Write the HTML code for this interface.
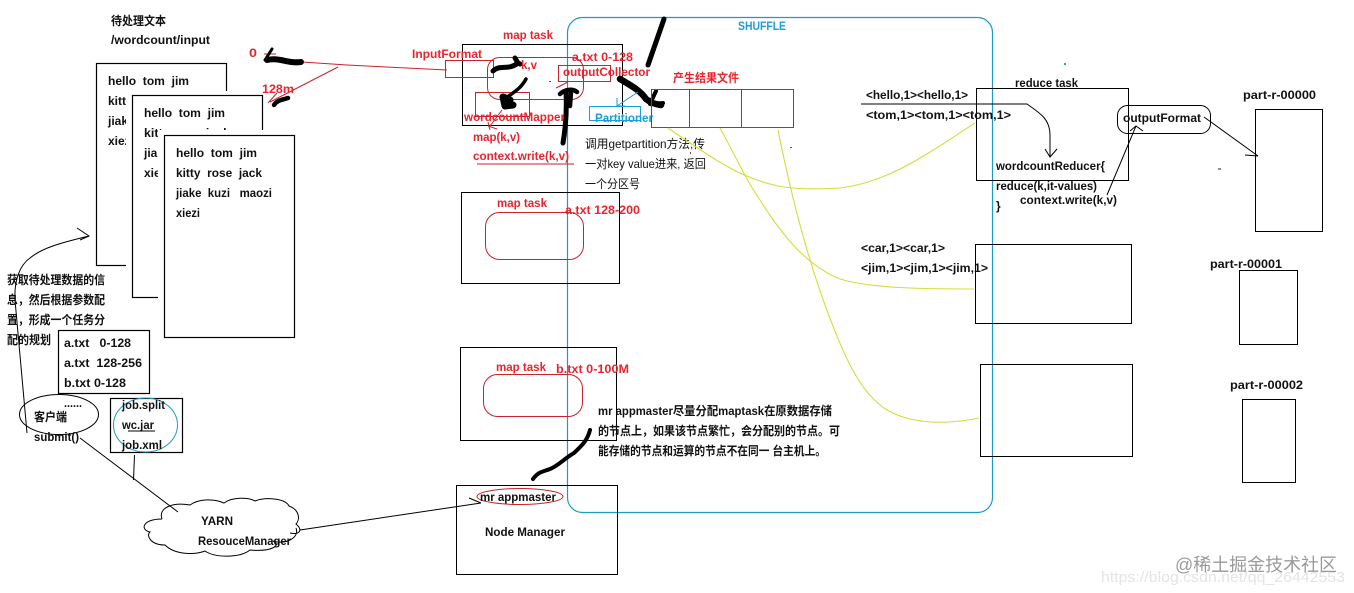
<!DOCTYPE html>
<html><head><meta charset="utf-8">
<style>
html,body{margin:0;padding:0;background:#fff;width:1354px;height:593px;overflow:hidden}
svg{display:block}
text{font-family:"Liberation Sans","Noto Sans CJK SC",sans-serif;font-size:12px;font-weight:bold;fill:#111;white-space:pre}
.r{fill:#e8252d}.b{fill:#1a9fd8}.n{font-weight:normal}
.k{fill:#fff;stroke:#000;stroke-width:1.2}
.kn{fill:none;stroke:#000;stroke-width:1}
.rl{fill:none;stroke:#c8232c;stroke-width:1}
.y{fill:none;stroke:#d4dc3c;stroke-width:1.1}
.br{fill:none;stroke:#000;stroke-linecap:round;stroke-linejoin:round}
</style></head><body>
<svg width="1354" height="593" viewBox="0 0 1354 593" xmlns="http://www.w3.org/2000/svg">
<rect width="1354" height="593" fill="#fff"/>

<!-- documents -->
<text x="111" y="25" textLength="55" lengthAdjust="spacingAndGlyphs">待处理文本</text>
<text x="111" y="44" textLength="99" lengthAdjust="spacingAndGlyphs">/wordcount/input</text>
<rect class="k" x="96.5" y="63.5" width="130" height="202"/>
<text x="108" y="85" textLength="81" lengthAdjust="spacingAndGlyphs">hello  tom  jim</text>
<text x="108" y="105">kitty</text><text x="108" y="125">jiake</text><text x="108" y="145">xiezi</text>
<rect x="126" y="91" width="140" height="210" fill="#fff"/>
<rect class="k" x="132.5" y="95.5" width="130" height="202"/>
<text x="144" y="117" textLength="81" lengthAdjust="spacingAndGlyphs">hello  tom  jim</text>
<text x="144" y="137" textLength="86" lengthAdjust="spacingAndGlyphs">kitty  rose jack</text>
<text x="144" y="157">jiake</text><text x="144" y="177">xiezi</text>
<rect x="158" y="130" width="140" height="210" fill="#fff"/>
<rect class="k" x="164.5" y="135.5" width="130" height="202"/>
<text x="176" y="157" textLength="81" lengthAdjust="spacingAndGlyphs">hello  tom  jim</text>
<text x="176" y="177" textLength="86" lengthAdjust="spacingAndGlyphs">kitty  rose  jack</text>
<text x="176" y="197" textLength="96" lengthAdjust="spacingAndGlyphs">jiake  kuzi   maozi</text>
<text x="176" y="217" textLength="24" lengthAdjust="spacingAndGlyphs">xiezi</text>

<!-- shuffle -->
<rect x="567.5" y="17.5" width="425" height="495" rx="15" fill="none" stroke="#1a9cc4" stroke-width="1.2"/>
<text class="b" x="738" y="30" textLength="48" lengthAdjust="spacingAndGlyphs">SHUFFLE</text>

<!-- client left -->
<text x="7" y="284" textLength="98" lengthAdjust="spacingAndGlyphs">获取待处理数据的信</text>
<text x="7" y="304" textLength="98" lengthAdjust="spacingAndGlyphs">息，然后根据参数配</text>
<text x="7" y="324" textLength="98" lengthAdjust="spacingAndGlyphs">置，形成一个任务分</text>
<text x="7" y="344" textLength="44" lengthAdjust="spacingAndGlyphs">配的规划</text>
<path class="kn" d="M27,433 L15,300 C14,280 20,265 30,258 C42,248 60,243 89,236 M77,228 L89,236 L80,240"/>
<rect class="k" x="58.5" y="330.5" width="91" height="63" style="fill:none"/>
<text x="64" y="347" textLength="67" lengthAdjust="spacingAndGlyphs">a.txt   0-128</text>
<text x="64" y="367" textLength="78" lengthAdjust="spacingAndGlyphs">a.txt  128-256</text>
<text x="64" y="387" textLength="62" lengthAdjust="spacingAndGlyphs">b.txt 0-128</text>
<text x="64" y="407" textLength="18" lengthAdjust="spacingAndGlyphs">......</text>
<ellipse cx="59" cy="414.5" rx="39.5" ry="20" fill="none" stroke="#000"/>
<text x="34" y="421" textLength="33" lengthAdjust="spacingAndGlyphs">客户端</text>
<text x="34" y="441" textLength="45" lengthAdjust="spacingAndGlyphs">submit()</text>
<rect class="k" x="110.5" y="398.5" width="72" height="54" style="fill:none"/>
<ellipse cx="145.5" cy="425" rx="32" ry="27" fill="none" stroke="#1a9cc4"/>
<text x="122" y="409" textLength="43" lengthAdjust="spacingAndGlyphs">job.split</text>
<text x="122" y="429" textLength="32" lengthAdjust="spacingAndGlyphs">wc.jar</text>
<path class="kn" d="M128,431 H155"/>
<text x="122" y="449" textLength="40" lengthAdjust="spacingAndGlyphs">job.xml</text>
<path class="kn" d="M80,438 L178,512 M134.500,455 L133.500,480"/>

<!-- cloud -->
<path class="kn" d="M162,519 C158,508 172,502 190,505 C200,498 215,499 224,503 C232,497 248,497 255,501 C265,497 285,498 289,506 C300,510 300,520 296,524 C303,530 300,535 290,533 M296,528 C300,538 285,545 273,541 C282,545 272,552 250,550 C240,558 215,558 205,551 C195,555 175,555 165,545 C150,545 146,535 150,532 C140,530 142,519 162,519"/>
<text x="201" y="525" textLength="32" lengthAdjust="spacingAndGlyphs">YARN</text>
<text x="198" y="545" textLength="93" lengthAdjust="spacingAndGlyphs">ResouceManager</text>
<path class="kn" d="M300,530 L481,503 M469,498 L481,503"/>

<!-- map task 1 -->
<rect class="kn" x="462.5" y="44.5" width="160" height="81" stroke-width="1.2"/>
<text class="r" x="503" y="39" textLength="50" lengthAdjust="spacingAndGlyphs">map task</text>
<text class="r" x="412" y="58" textLength="70" lengthAdjust="spacingAndGlyphs">InputFormat</text>
<rect class="rl" x="445.500" y="60.500" width="48" height="17"/>
<rect class="rl" x="487.500" y="57.500" width="96" height="42" rx="12"/>
<rect class="rl" x="475.500" y="92.500" width="54" height="24"/>
<rect class="rl" x="558.500" y="65.500" width="52" height="16"/>
<path class="rl" d="M302,62 L347,65 L447,70 M338,67 L270,102 M277,93 L268,103 M264,54 L276,54"/>
<text class="r" x="249" y="57" textLength="8" lengthAdjust="spacingAndGlyphs">0</text>
<text class="r" x="262" y="93" textLength="32" lengthAdjust="spacingAndGlyphs">128m</text>
<path class="br" stroke-width="6" d="M267,60 C280,57 288,64 301,62"/>
<path class="br" stroke-width="3" d="M265,60 L272,49"/>
<path class="br" stroke-width="4.500" d="M274,105 C277,100 282,100 288,98"/>
<path class="br" stroke-width="5" d="M493,71 C500,64 508,71 518,63 L515,58 M518,63 L520,64"/>
<path class="br" stroke-width="3.500" d="M526,79 C520,90 512,93 506,98"/>
<path class="br" stroke-width="7" d="M503,97 L505,106 L513,105 M503,97 L510,100"/>
<text class="r" x="521" y="69" textLength="16" lengthAdjust="spacingAndGlyphs">k,v</text>
<text class="r" x="572" y="61" textLength="61" lengthAdjust="spacingAndGlyphs">a.txt 0-128</text>
<text class="r" x="563" y="76" textLength="87" lengthAdjust="spacingAndGlyphs">outputCollector</text>
<text class="r" x="464" y="121" textLength="101" lengthAdjust="spacingAndGlyphs">wordcountMapper</text>
<text class="r" x="473" y="141" textLength="47" lengthAdjust="spacingAndGlyphs">map(k,v)</text>
<text class="r" x="473" y="160" textLength="96" lengthAdjust="spacingAndGlyphs">context.write(k,v)</text>
<path class="rl" d="M477,164 H574 M502,110 L490,126 M488,126 L497,129 M488,122 L490,130"/>
<path class="br" stroke-width="5" d="M563,143 C566,125 567,110 566,92"/>
<path class="br" stroke-width="4.500" d="M560,94 C564,90 572,88 577,92 M571,92 L570,106"/>
<path class="rl" d="M556,88 L568,82"/>
<path class="br" stroke-width="5" d="M648,65 L664,19"/>
<path class="br" stroke-width="6.500" d="M620,79 C630,85 640,90 646,99 C651,103 655,104 661,105"/>
<path class="br" stroke-width="4" d="M650,104 L656,91 M650,104 L663,103"/>

<!-- partitioner -->
<rect x="589.500" y="106.500" width="51" height="14" fill="none" stroke="#1a9fd8"/>
<path d="M638,92 L617,106 M617,98 V106 H625" fill="none" stroke="#1a9fd8"/>
<text class="b" x="595" y="122" textLength="58" lengthAdjust="spacingAndGlyphs">Partitioner</text>

<!-- result file -->
<text class="r" x="673" y="82" textLength="66" lengthAdjust="spacingAndGlyphs">产生结果文件</text>
<rect class="rl" x="651.500" y="89.500" width="142" height="38"/>
<path class="rl" d="M689.500,89.500 V127.500 M741.500,89.500 V127.500"/>

<text class="n" x="585" y="148" textLength="120" lengthAdjust="spacingAndGlyphs">调用getpartition方法,传</text>
<text class="n" x="585" y="168" textLength="121" lengthAdjust="spacingAndGlyphs">一对key value进来, 返回</text>
<text class="n" x="585" y="188" textLength="55" lengthAdjust="spacingAndGlyphs">一个分区号</text>

<!-- yellow -->
<path class="y" d="M668,128 C700,150 730,170 747,176 C770,186 790,191 840,188 C890,182 930,152 975,123"/>
<path class="y" d="M720,128 C735,155 745,178 760,200 C780,232 805,265 840,279 C870,288 920,289 974,289"/>
<path class="y" d="M778,130 C790,190 805,250 825,305 C840,345 855,385 880,405 C905,425 945,425 979,418"/>

<!-- map task 2 -->
<rect class="kn" x="461.500" y="192.500" width="158" height="91" stroke-width="1.200"/>
<text class="r" x="497" y="207" textLength="50" lengthAdjust="spacingAndGlyphs">map task</text>
<text class="r" x="565" y="214" textLength="75" lengthAdjust="spacingAndGlyphs">a.txt 128-200</text>
<rect class="rl" x="485.500" y="212.500" width="98" height="47" rx="14"/>

<!-- map task 3 -->
<rect class="kn" x="460.500" y="347.500" width="156" height="93" stroke-width="1.200"/>
<text class="r" x="496" y="371" textLength="50" lengthAdjust="spacingAndGlyphs">map task</text>
<text class="r" x="556" y="373" textLength="73" lengthAdjust="spacingAndGlyphs">b.txt 0-100M</text>
<rect class="rl" x="483.500" y="374.500" width="99" height="42" rx="14"/>

<text x="598" y="415" textLength="234" lengthAdjust="spacingAndGlyphs">mr appmaster尽量分配maptask在原数据存储</text>
<text x="598" y="435" textLength="242" lengthAdjust="spacingAndGlyphs">的节点上，如果该节点繁忙，会分配别的节点。可</text>
<text x="598" y="455" textLength="228" lengthAdjust="spacingAndGlyphs">能存储的节点和运算的节点不在同一 台主机上。</text>
<path class="br" stroke-width="4" d="M590,430 C587,442 580,447 574,453 C565,458 558,466 550,469 C542,472 538,472 533,479"/>

<!-- node manager -->
<rect class="kn" x="456.500" y="485.500" width="161" height="89" stroke-width="1.200"/>
<ellipse cx="520" cy="496.500" rx="43" ry="8" fill="none" stroke="#c8232c"/>
<text x="480" y="501" textLength="76" lengthAdjust="spacingAndGlyphs">mr appmaster</text>
<text x="485" y="536" textLength="80" lengthAdjust="spacingAndGlyphs">Node Manager</text>

<!-- reducers -->
<text x="1015" y="87" textLength="63" lengthAdjust="spacingAndGlyphs">reduce task</text>
<rect class="kn" x="976.500" y="88.500" width="152" height="92" stroke-width="1.200"/>
<text x="866" y="99" textLength="102" lengthAdjust="spacingAndGlyphs">&lt;hello,1&gt;&lt;hello,1&gt;</text>
<text x="866" y="119" textLength="145" lengthAdjust="spacingAndGlyphs">&lt;tom,1&gt;&lt;tom,1&gt;&lt;tom,1&gt;</text>
<path class="kn" d="M861,104 H1027 C1038,112 1050,118 1050,135 V157 M1045,149 L1050,157 L1057,149"/>
<text x="996" y="170" textLength="109" lengthAdjust="spacingAndGlyphs">wordcountReducer{</text>
<text x="996" y="190" textLength="101" lengthAdjust="spacingAndGlyphs">reduce(k,it-values)</text>
<text x="1020" y="204" textLength="97" lengthAdjust="spacingAndGlyphs">context.write(k,v)</text>
<text x="996" y="210">}</text>
<rect x="1117.500" y="105.500" width="93" height="28" rx="10" fill="none" stroke="#000"/>
<text x="1123" y="122" textLength="78" lengthAdjust="spacingAndGlyphs">outputFormat</text>
<path class="kn" d="M1107,195 L1136,126 M1130,131 L1136,126 L1143,131"/>
<path class="kn" d="M1204,117 L1258,156 M1245,155 L1258,156"/>

<text x="861" y="252" textLength="84" lengthAdjust="spacingAndGlyphs">&lt;car,1&gt;&lt;car,1&gt;</text>
<text x="861" y="272" textLength="127" lengthAdjust="spacingAndGlyphs">&lt;jim,1&gt;&lt;jim,1&gt;&lt;jim,1&gt;</text>
<rect class="kn" x="975.500" y="244.500" width="156" height="79" stroke-width="1.200"/>
<rect class="kn" x="980.500" y="364.500" width="152" height="92" stroke-width="1.200"/>

<!-- parts -->
<text x="1243" y="99" textLength="73" lengthAdjust="spacingAndGlyphs">part-r-00000</text>
<rect class="kn" x="1255.500" y="109.500" width="67" height="122" stroke-width="1.200"/>
<text x="1210" y="268" textLength="72" lengthAdjust="spacingAndGlyphs">part-r-00001</text>
<rect class="kn" x="1239.500" y="270.500" width="58" height="74" stroke-width="1.200"/>
<text x="1230" y="389" textLength="73" lengthAdjust="spacingAndGlyphs">part-r-00002</text>
<rect class="kn" x="1242.500" y="399.500" width="53" height="83" stroke-width="1.200"/>

<!-- specks -->
<rect x="1064" y="63" width="2" height="2" fill="#1a9fd8"/>
<rect x="1218" y="168.500" width="3" height="1" fill="#222"/>
<rect x="790" y="147" width="2" height="1" fill="#c8232c"/>
<rect x="690" y="152" width="1" height="2" fill="#c8232c"/>
<rect x="549" y="81" width="2" height="1" fill="#c8232c"/>

<!-- watermark -->
<text class="n" x="1101" y="582" textLength="244" lengthAdjust="spacingAndGlyphs" style="font-size:15px;fill:#e4e4e4">https://blog.csdn.net/qq_26442553</text>
<text class="n" x="1175" y="571" textLength="162" lengthAdjust="spacingAndGlyphs" style="font-size:18px;fill:#9a9a9a">@稀土掘金技术社区</text>
</svg>
</body></html>
